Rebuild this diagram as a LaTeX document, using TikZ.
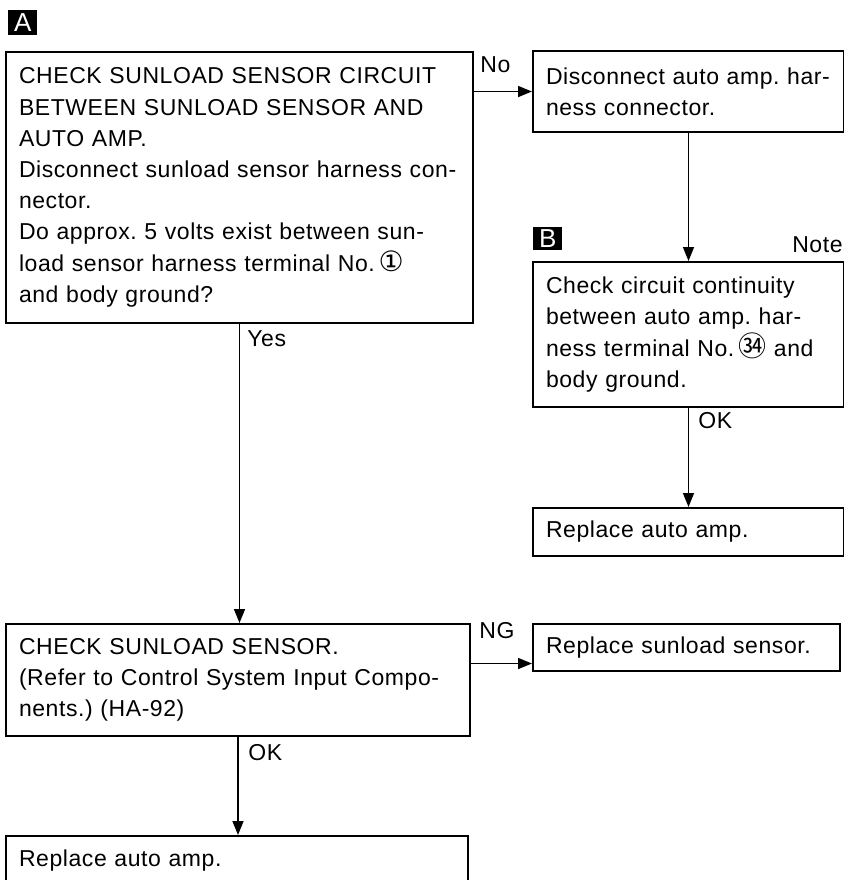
\documentclass[tikz,border=0pt]{standalone}
\usepackage{fontspec}
\setmainfont{Liberation Sans}[LetterSpace=2.5]
\newfontfamily\symfont{DejaVu Sans}
\newfontfamily\cjk{Noto Sans CJK SC}
\newcommand{\encl}[2]{{#1\fontsize{14}{14}\selectfont #2}}
\usetikzlibrary{positioning,arrows.meta}

\begin{document}
\frenchspacing
\begin{tikzpicture}[
    x=0.5pt, y=-0.5pt,
    box/.style={draw, line width=1pt, anchor=north west, align=left, inner xsep=6.5pt, inner ysep=0pt, font=\fontsize{11.5}{15.6}\selectfont},
    lbl/.style={anchor=base west, inner sep=0pt, font=\fontsize{11.5}{13}\selectfont},
    tag/.style={fill=black, text=white, anchor=north west, inner sep=0pt, font=\fontsize{13}{13}\selectfont},
    arrow/.style={-{Triangle[length=7pt,width=5.5pt]}, line width=0.75pt}
]
\useasboundingbox (0,0) rectangle (844,880);
\clip (0,0) rectangle (844,880);

% section markers
\node[tag, minimum width=14.5pt, minimum height=12.5pt] (tagA) at (8,10) {A};
\node[tag, minimum width=14.5pt, minimum height=11.5pt] (tagB) at (533,227) {B};

% left column
\node[box, text width=220.5pt, minimum height=135.5pt] (chk1) at (5,51)
    {CHECK SUNLOAD SENSOR CIRCUIT\\
     BETWEEN SUNLOAD SENSOR AND\\
     AUTO AMP.\\
     Disconnect sunload sensor harness con-\\
     nector.\\
     Do approx. 5 volts exist between sun-\\
     load sensor harness terminal No.\,\encl{\symfont}{①}\\
     and body ground?};
\node[box, text width=219pt, minimum height=56pt] (chk2) at (5,623)
    {CHECK SUNLOAD SENSOR.\\
     (Refer to Control System Input Compo-\\
     nents.) (HA-92)};
\node[box, text width=218pt, minimum height=25pt] (amp2) at (5,835) {Replace auto amp.};

% right column
\node[box, text width=142.5pt, minimum height=40.5pt] (disc) at (532,50)
    {Disconnect auto amp. har-\\
     ness connector.};
\node[box, text width=142.5pt, minimum height=72.5pt] (cont) at (532,261)
    {Check circuit continuity\\
     between auto amp. har-\\
     ness terminal No.\,\encl{\cjk}{㉞}\ and\\
     body ground.};
\node[box, text width=142.5pt, minimum height=24pt] (amp1) at (532,507) {Replace auto amp.};
\node[box, text width=140.5pt, minimum height=23.5pt] (sens) at (532,623) {Replace sunload sensor.};

% branch labels
\node[lbl] (lno) at (480,72) {No};
\node[lbl] (lyes) at (247,346) {Yes};
\node[lbl, anchor=base east] (lnote) at (843,252) {Note};
\node[lbl] (lok1) at (698,428) {OK};
\node[lbl] (lng) at (479,638) {NG};
\node[lbl] (lok2) at (248,760) {OK};

\draw[arrow] (chk1.east |- disc.west) -- (disc.west);
\draw[arrow] (disc.south) -- (cont.north);
\draw[arrow] (cont.south) -- (amp1.north);
\draw[arrow] (chk1.south) -- (chk1.south |- chk2.north);
\draw[arrow] ([yshift=-8pt]sens.west -| chk2.east) -- ([yshift=-8pt]sens.west);
\draw[arrow] (chk2.south) -- (chk2.south |- amp2.north);

\end{tikzpicture}
\end{document}
